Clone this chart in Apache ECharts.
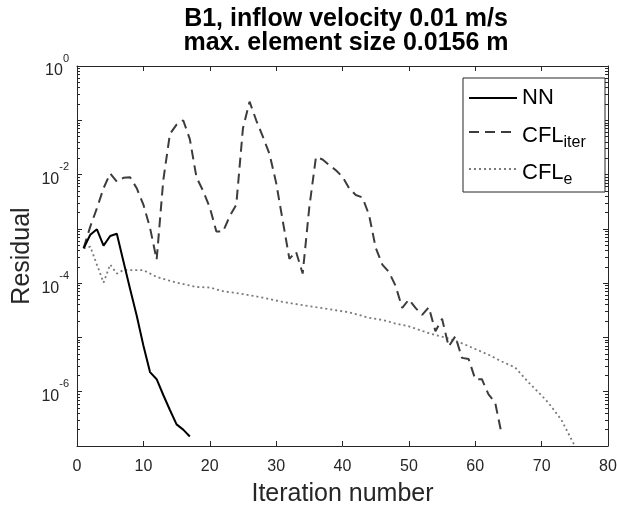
<!DOCTYPE html>
<html>
<head>
<meta charset="utf-8">
<script src="https://cdn.jsdelivr.net/npm/echarts@6/dist/echarts.min.js"></script>
<style>html,body{margin:0;padding:0;background:#fff;}#c{width:617px;height:509px;}</style>
</head>
<body>
<div id="c"></div>
<script>
// ---- data ----
const nnIter = [1,2,3,4,5,6,7,8,9,10,11,12,13,14,15,16,17];
const nnRes = [4.4e-4,7.8e-4,9.8e-4,4.9e-4,7.4e-4,8.1e-4,2.5e-4,7.8e-5,2.5e-5,7.1e-6,2.3e-6,1.7e-6,8.7e-7,4.6e-7,2.5e-7,2.0e-7,1.5e-7];

const cflIterIter = [1,2,3,4,5,6,7,8,9,10,11,12,13,14,15,16,17,18,19,20,21,22,23,24,25,26,27,28,29,30,31,32,33,34,35,36,37,38,39,40,41,42,43,44,45,46,47,48,49,50,51,52,53,54,55,56,57,58,59,60,61,62,63,64];
const cflIterRes = [4.4e-4,1.1e-3,2.4e-3,5.6e-3,1.05e-2,7.4e-3,8.7e-3,8.9e-3,5.6e-3,2.8e-3,1.05e-3,2.7e-4,7.9e-3,5.6e-2,8.3e-2,0.1,4.5e-2,8.9e-3,5.0e-3,2.5e-3,8.9e-4,8.9e-4,1.7e-3,2.8e-3,7.1e-2,0.22,0.1,5.0e-2,2.4e-2,7.1e-3,1.4e-3,2.8e-4,3.8e-4,1.5e-4,2.5e-3,2.1e-2,1.9e-2,1.5e-2,1.2e-2,9.1e-3,5.6e-3,4.2e-3,3.8e-3,1.8e-3,4.5e-4,2.2e-4,1.6e-4,8.9e-5,3.5e-5,5.0e-5,3.5e-5,2.6e-5,3.6e-5,1.3e-5,2.2e-5,6.8e-6,1.05e-5,4.2e-6,4.0e-6,1.7e-6,1.7e-6,8.9e-7,6.3e-7,1.6e-7];

const cflEIter = [1,2,4,5,6,7,10,12,15,18,20,22,25,28,31,36,41,44,46,48,50,53,56,58,62,64,66,68,70,71,73,75];
const cflERes = [4.4e-4,4.7e-4,1.02e-4,2.2e-4,1.5e-4,1.74e-4,1.74e-4,1.3e-4,1.02e-4,8.5e-5,8.3e-5,7.1e-5,6.3e-5,5.4e-5,4.5e-5,3.6e-5,2.9e-5,2.3e-5,2.1e-5,1.8e-5,1.6e-5,1.2e-5,9.5e-6,7.8e-6,4.8e-6,3.6e-6,2.8e-6,1.5e-6,8.5e-7,6.3e-7,3.0e-7,1.0e-7];

const seriesNames = ['NN','CFL_iter','CFL_e'];
const xTicks = [0,10,20,30,40,50,60,70,80];
const yLabelValues = [1e-6,1e-4,1e-2,1];
const titleLines = ['B1, inflow velocity 0.01 m/s','max. element size 0.0156 m'];
// ----------------

const FONT = '"Liberation Sans", Arial, Helvetica, sans-serif';
const AX = '#262626';
const zip = (a,b)=>a.map((v,i)=>[v,b[i]]);

const minorVals = [];
for (let e=-7;e<0;e++){ for (let k=2;k<=9;k++) minorVals.push(k*Math.pow(10,e)); }
const majorVals = [];
for (let e=-7;e<=0;e++) majorVals.push(Math.pow(10,e));

function yFmt(v){
  const e = Math.round(Math.log10(v));
  return '{b|10}{s|' + e + '}';
}
const yRich = {
  b:{fontSize:16,fontFamily:FONT,color:AX,verticalAlign:'bottom',lineHeight:26},
  s:{fontSize:11,fontFamily:FONT,color:AX,verticalAlign:'top',lineHeight:14}
};

function legFmt(name){
  const p = name.split('_');
  if (p.length===1) return '{m|'+p[0]+'}';
  return '{m|'+p[0]+'}{sub|'+p[1]+'}';
}
const legRich = {
  m:{fontSize:22,fontFamily:FONT,color:'#000',lineHeight:30,verticalAlign:'middle'},
  sub:{fontSize:16,fontFamily:FONT,color:'#000',lineHeight:12,padding:[18,0,0,0],verticalAlign:'bottom'}
};
// legend layout (pixels)
const legBox = {x:463, y:78, w:142, h:114};
const legTops = [86,117,154];
const legTextPad = [[0,0,0,0],[8,0,0,0],[8,0,0,0]];
const legends = seriesNames.map((n,i)=>({
  left: legBox.x + 5, top: legTops[i], orient:'vertical',
  itemWidth:48, itemHeight:30, itemGap:0, padding:0, z:20,
  itemStyle:{opacity:0}, formatter: legFmt,
  textStyle:{rich:legRich, padding:legTextPad[i]}, data:[n], selectedMode:false
}));

const baseY = {
  type:'log', logBase:10, min:1e-7, max:1,
  splitLine:{show:false}, minorTick:{show:false}
};

const chart = echarts.init(document.getElementById('c'), null, {renderer:'canvas'});
chart.setOption({
  animation:false,
  backgroundColor:'#fff',
  title:{
    text: titleLines.join('\n'),
    left: 341, top: 2, textAlign:'center',
    textStyle:{fontFamily:FONT,fontSize:25,fontWeight:'bold',color:'#000',lineHeight:24}
  },
  grid:{left:77,right:9,top:66,bottom:63,containLabel:false,outerBoundsMode:'none'},
  graphic:[{
    type:'rect', z:10, shape:{x:legBox.x, y:legBox.y, width:legBox.w, height:legBox.h},
    style:{fill:'#fff', stroke:AX, lineWidth:1}
  }],
  legend: legends,
  xAxis:[{
    type:'value', min:0, max:80, interval:10, position:'bottom',
    name:'Iteration number', nameLocation:'middle', nameGap:36,
    nameTextStyle:{fontFamily:FONT,fontSize:25,color:AX},
    axisLine:{show:true,lineStyle:{color:AX,width:1}},
    axisTick:{show:true,inside:true,length:5,lineStyle:{color:AX}},
    axisLabel:{fontFamily:FONT,fontSize:16,color:AX,margin:13,
      customValues:xTicks},
    splitLine:{show:false}
  },{
    type:'value', min:0, max:80, interval:10, position:'top',
    axisLine:{show:true,lineStyle:{color:AX,width:1}},
    axisTick:{show:true,inside:true,length:5,lineStyle:{color:AX}},
    axisLabel:{show:false}, splitLine:{show:false}
  }],
  yAxis:[
    Object.assign({},baseY,{
      position:'left',
      name:'Residual', nameLocation:'middle', nameGap:42, nameMoveOverlap:false,
      nameTextStyle:{fontFamily:FONT,fontSize:25,color:AX},
      axisLine:{show:true,lineStyle:{color:AX,width:1}},
      axisTick:{show:true,inside:true,length:5,lineStyle:{color:AX},customValues:majorVals},
      axisLabel:{show:true,margin:8,formatter:yFmt,rich:yRich,customValues:yLabelValues}
    }),
    Object.assign({},baseY,{
      position:'left', offset:0,
      axisLine:{show:false},
      axisTick:{show:true,inside:true,length:3,lineStyle:{color:AX},customValues:minorVals},
      axisLabel:{show:false}
    }),
    Object.assign({},baseY,{
      position:'right', offset:0,
      axisLine:{show:true,lineStyle:{color:AX,width:1}},
      axisTick:{show:true,inside:true,length:5,lineStyle:{color:AX},customValues:majorVals},
      axisLabel:{show:false}
    }),
    Object.assign({},baseY,{
      position:'right', offset:0,
      axisLine:{show:false},
      axisTick:{show:true,inside:true,length:3,lineStyle:{color:AX},customValues:minorVals},
      axisLabel:{show:false}
    })
  ],
  series:[
    {name:'NN',type:'line',data:zip(nnIter,nnRes),showSymbol:false,symbol:'none',
     lineStyle:{color:'#000',width:2},itemStyle:{color:'#000'},z:5},
    {name:'CFL_iter',type:'line',data:zip(cflIterIter,cflIterRes),showSymbol:false,symbol:'none',
     lineStyle:{color:'#3c3c3c',width:2,type:[10,6]},itemStyle:{color:'#3c3c3c'},z:4},
    {name:'CFL_e',type:'line',data:zip(cflEIter,cflERes),showSymbol:false,symbol:'none',
     lineStyle:{color:'#7a7a7a',width:1.8,type:[2,3]},itemStyle:{color:'#7a7a7a'},z:3}
  ]
});
</script>
</body>
</html>
